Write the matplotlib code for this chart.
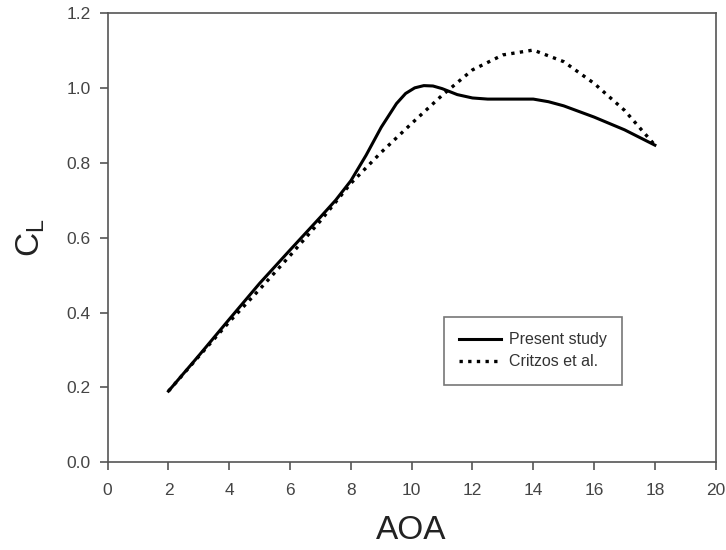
#!/usr/bin/env python3

import matplotlib
matplotlib.use("Agg")
import matplotlib.pyplot as plt

# Lift coefficient vs angle of attack
aoa_present = [2, 3, 4, 5, 6, 7, 7.5, 8, 8.5, 9, 9.5, 9.8, 10.1, 10.4, 10.7, 11, 11.5, 12, 12.5, 13, 14, 14.5, 15, 16, 17, 18]
cl_present = [0.19, 0.285, 0.382, 0.478, 0.567, 0.655, 0.7, 0.752, 0.82, 0.895, 0.958, 0.985, 1.0, 1.006, 1.005, 0.998, 0.982, 0.973, 0.970, 0.970, 0.970, 0.963, 0.952, 0.922, 0.888, 0.847]

aoa_critzos = [2, 3, 4, 5, 6, 7, 8, 9, 10, 11, 12, 13, 14, 15, 16, 17, 18]
cl_critzos = [0.19, 0.283, 0.375, 0.462, 0.552, 0.645, 0.745, 0.828, 0.905, 0.98, 1.048, 1.088, 1.101, 1.07, 1.012, 0.94, 0.847]

x_ticks = list(range(0, 21, 2))
y_ticks = [0.0, 0.2, 0.4, 0.6, 0.8, 1.0, 1.2]

plt.rcParams["font.family"] = ["Liberation Sans", "DejaVu Sans"]
plt.rcParams["mathtext.fontset"] = "custom"
plt.rcParams["mathtext.rm"] = "Liberation Sans"

fig = plt.figure(figsize=(7.26, 5.5), dpi=100)
ax = fig.add_axes([0.1483, 0.1595, 0.8375, 0.8169])

ax.plot(aoa_present, cl_present, color="black", linewidth=2.2, label="Present study")
ax.plot(aoa_critzos, cl_critzos, color="black", linewidth=2.4,
        linestyle=(0, (1, 1.6)), label="Critzos et al.")

ax.set_xlim(0, 20)
ax.set_ylim(0, 1.2)
ax.set_xticks(x_ticks)
ax.set_yticks(y_ticks)
ax.set_yticklabels([f"{v:.1f}" for v in y_ticks])

for s in ax.spines.values():
    s.set_color("#555555")
    s.set_linewidth(1.2)
ax.tick_params(direction="out", length=6, width=1.2, color="#555555",
               labelcolor="#444444", labelsize=12.5)
ax.tick_params(axis="x", pad=9)
ax.tick_params(axis="y", pad=6)

ax.set_xlabel("AOA", fontsize=24, color="#222222", labelpad=12)
ax.set_ylabel(r"C$_\mathregular{L}$", fontsize=24, color="#222222", labelpad=14)

leg = ax.legend(loc="upper left", bbox_to_anchor=(444 / 726, 1 - 317 / 550),
                bbox_transform=fig.transFigure, frameon=True, fancybox=False,
                fontsize=11.5, handlelength=2.6, borderpad=0.95, labelspacing=0.45,
                handletextpad=0.5, borderaxespad=0)
leg.get_frame().set_edgecolor("#555555")
leg.get_frame().set_linewidth(1.2)
for t in leg.get_texts():
    t.set_color("#333333")

fig.savefig("out.png", dpi=100)
